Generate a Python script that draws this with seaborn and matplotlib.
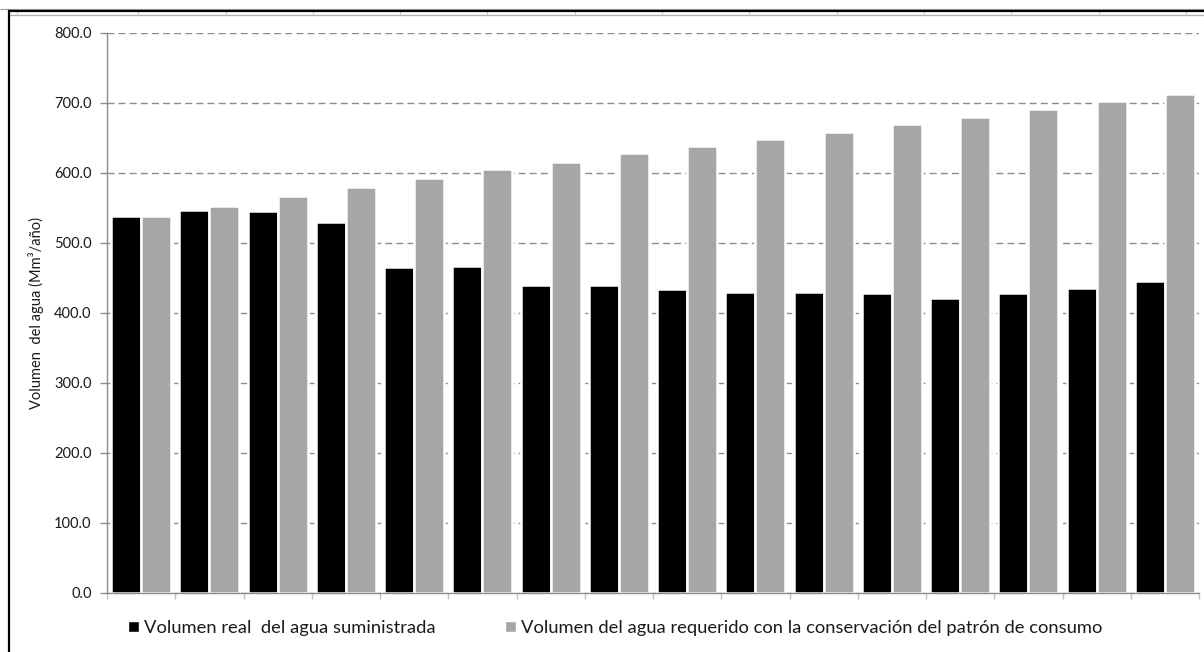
import matplotlib
matplotlib.use("Agg")
import matplotlib.pyplot as plt
from matplotlib.lines import Line2D
from matplotlib.patches import Patch
import numpy as np
import pandas as pd
import seaborn as sns

# Water volumes per period (Mm3/year)
periodos = [str(i) for i in range(1, 17)]
volumen_real = [538.6, 547.0, 545.0, 530.0, 465.5, 467.5, 440.5, 440.5,
                434.0, 430.5, 430.5, 428.5, 422.0, 428.5, 436.0, 445.0]
volumen_requerido = [538.6, 552.5, 567.5, 580.0, 592.5, 605.0, 615.5, 628.0,
                     638.5, 648.5, 659.0, 669.5, 679.5, 692.0, 702.5, 713.0]
serie_real = "Volumen real  del agua suministrada"
serie_req = "Volumen del agua requerido con la conservación del patrón de consumo"
yticks = [0, 100, 200, 300, 400, 500, 600, 700, 800]

df = pd.DataFrame({
    "periodo": periodos * 2,
    "valor": volumen_real + volumen_requerido,
    "serie": [serie_real] * len(periodos) + [serie_req] * len(periodos),
})

sns.set_theme(style="white")
plt.rcParams["font.family"] = ["Lato", "DejaVu Sans"]

W, H = 1204, 652
fig = plt.figure(figsize=(W / 100, H / 100), dpi=100)
ax = fig.add_axes([107 / W, (H - 593) / H, (1199 - 107) / W, 560 / H])

colores = ["#000000", "#a6a6a6"]
sns.barplot(data=df, x="periodo", y="valor", hue="serie", palette=colores,
            width=0.88, edgecolor="white", linewidth=1.8, ax=ax, legend=False)

ax.set_ylim(0, 800)
ax.set_xlim(-0.5, len(periodos) - 0.5)
ax.set_yticks(yticks)
ax.set_yticklabels([f"{v:.1f}" for v in yticks])
ax.set_xticks(np.arange(-0.5, len(periodos), 1.0))
ax.set_xticklabels([])
ax.set_xlabel("")
ax.set_ylabel("Volumen  del agua (Mm³/año)", fontsize=10.5, color="#1a1a1a", labelpad=7)

ax.set_axisbelow(True)
ax.yaxis.grid(True, linestyle=(0, (5, 3)), color="#8c8c8c", linewidth=1.0)
ax.xaxis.grid(False)

for s in ["top", "right"]:
    ax.spines[s].set_visible(False)
for s in ["left", "bottom"]:
    ax.spines[s].set_color("#8c8c8c")
    ax.spines[s].set_linewidth(1.0)

ax.tick_params(axis="y", which="major", direction="out", length=5, width=1,
               color="#8c8c8c", labelsize=10.5, labelcolor="#1a1a1a", pad=6, left=True)
ax.tick_params(axis="x", which="major", direction="out", length=4, width=1,
               color="#bfbfbf", bottom=True)

handles = [Patch(facecolor=colores[0], edgecolor="white"),
           Patch(facecolor=colores[1], edgecolor="white")]
fig.legend(handles, [serie_real, serie_req], loc="center",
           bbox_to_anchor=(615 / W, 1 - 628 / H), ncol=2, frameon=False,
           fontsize=13.2, handlelength=0.6, handleheight=0.6, handletextpad=0.25,
           columnspacing=3.8, labelcolor="#1a1a1a")

# Outer frame of the chart area
def px_line(x0, y0, x1, y1, color, lw):
    fig.add_artist(Line2D([x0 / W, x1 / W], [1 - y0 / H, 1 - y1 / H],
                          transform=fig.transFigure, color=color, linewidth=lw,
                          solid_capstyle="butt"))

px_line(0, 9.3, W, 9.3, "#9a9a9a", 0.8)
px_line(8, 15.2, W, 15.2, "#b0b0b0", 1.0)
for cx in [17, 138, 226, 313, 400, 487, 575, 662, 749, 837, 924, 1011, 1099, 1186]:
    px_line(cx, 11, cx, 15, "#c8c8c8", 0.8)
px_line(7.5, 10.8, W, 10.8, "#000000", 1.6)
px_line(8.8, 10, 8.8, H, "#000000", 1.6)

fig.savefig("out.png", dpi=100)
